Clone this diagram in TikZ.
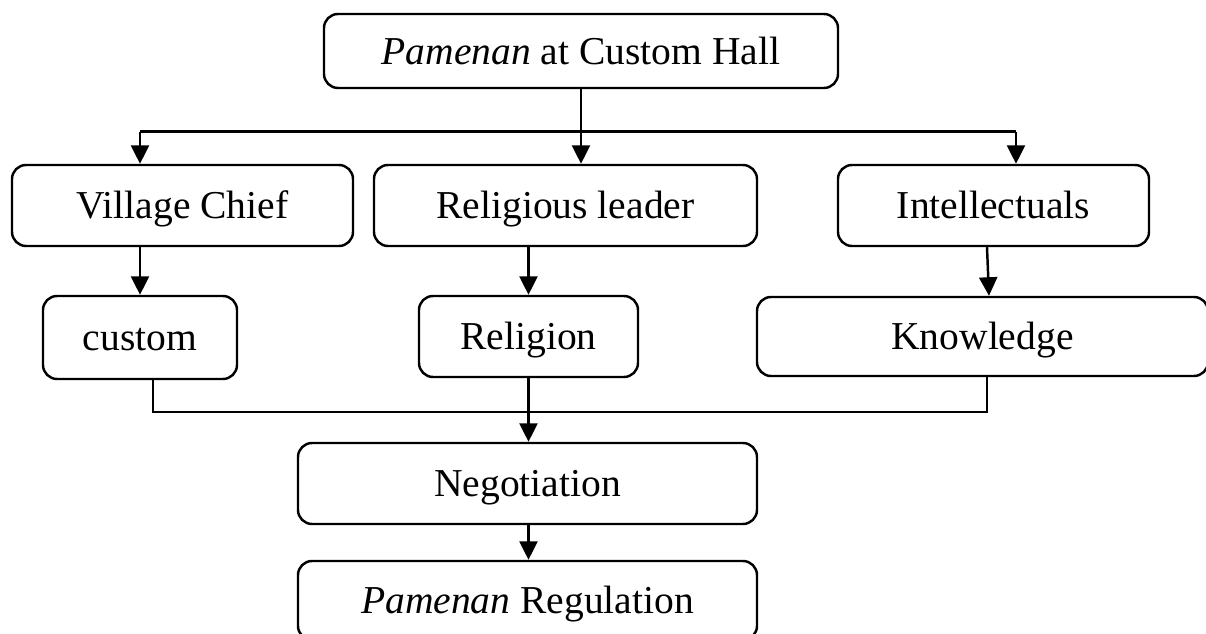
\documentclass[tikz,border=0pt]{standalone}
\usepackage{fontspec}
\setmainfont{Liberation Serif}
\usetikzlibrary{arrows.meta, positioning, calc}
\tikzset{
  caja/.style={draw, line width=1.4pt, rounded corners=8pt, align=center, font=\fontsize{22.5}{26}\selectfont, inner sep=0pt, text height=15.3pt, text depth=0pt},
  flecha/.style={-{Triangle[length=3.7mm, width=3.6mm]}, line width=1.4pt},
  linea/.style={line width=1.4pt},
}
\begin{document}
\begin{tikzpicture}
  \useasboundingbox (0,0) rectangle (24.12,-12.68);
  \node[caja, minimum width=10.28cm, minimum height=1.48cm] (top) at (11.62,-1.02) {\textit{Pamenan} at Custom Hall};
  \node[caja, minimum width=6.82cm, minimum height=1.62cm] (chief) at (3.65,-4.11) {Village Chief};
  \node[caja, minimum width=7.66cm, minimum height=1.62cm] (leader) at (11.31,-4.11) {Religious leader};
  \node[caja, minimum width=6.22cm, minimum height=1.62cm] (intel) at (19.87,-4.11) {Intellectuals};
  \node[caja, minimum width=3.88cm, minimum height=1.66cm] (custom) at (2.80,-6.75) {custom};
  \node[caja, minimum width=4.38cm, minimum height=1.62cm] (religion) at (10.57,-6.73) {Religion};
  \node[caja, minimum width=9.02cm, minimum height=1.58cm] (knowledge) at (19.65,-6.73) {Knowledge};
  \node[caja, minimum width=9.18cm, minimum height=1.62cm] (nego) at (10.55,-9.67) {Negotiation};
  \node[caja, minimum width=9.18cm, minimum height=1.58cm] (reg) at (10.55,-12.01) {\textit{Pamenan} Regulation};
  % top split
  \coordinate (b1) at (2.80,-2.634);
  \coordinate (b3) at (20.32,-2.634);
  \draw[linea] (top.south) -- (top.south |- b1);
  \draw[linea] (b1) -- (b3);
  \draw[flecha] (b1) -- (b1 |- chief.north);
  \draw[flecha] (top.south |- b1) -- (top.south |- leader.north);
  \draw[flecha] (b3) -- (b3 |- intel.north);
  % second row
  \draw[flecha] (chief.south -| custom.north) -- (custom.north);
  \draw[flecha] (leader.south -| religion.north) -- (religion.north);
  \draw[flecha] ([xshift=-1.3mm]intel.south) -- ([xshift=1.3mm]knowledge.north);
  % join
  \coordinate (c1) at (3.06,-8.24);
  \coordinate (c2) at (19.74,-8.24);
  \draw[linea] (c1 |- custom.south) -- (c1) -- (c2) -- (c2 |- knowledge.south);
  \draw[flecha] (religion.south) -- (religion.south |- nego.north);
  \draw[flecha] (nego.south -| religion.south) -- (religion.south |- reg.north);
\end{tikzpicture}
\end{document}
